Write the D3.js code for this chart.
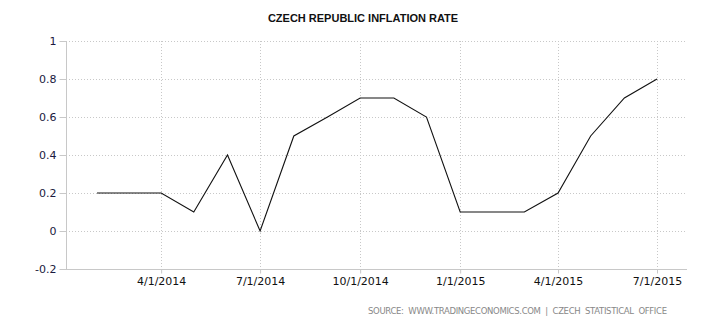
<!DOCTYPE html>
<html><head><meta charset="utf-8">
<script src="https://cdn.jsdelivr.net/npm/d3@7"></script>
<style>body{margin:0;background:#fff}svg{display:block}</style>
</head><body>
<script>
const months = ["2014-02-01","2014-03-01","2014-04-01","2014-05-01","2014-06-01","2014-07-01","2014-08-01","2014-09-01","2014-10-01","2014-11-01","2014-12-01","2015-01-01","2015-02-01","2015-03-01","2015-04-01","2015-05-01","2015-06-01","2015-07-01"];
const values = [0.2,0.2,0.2,0.1,0.4,0.0,0.5,0.6,0.7,0.7,0.6,0.1,0.1,0.1,0.2,0.5,0.7,0.8];
const xTicks = ["2014-04-01","2014-07-01","2014-10-01","2015-01-01","2015-04-01","2015-07-01"];
const yTicks = [-0.2,0,0.2,0.4,0.6,0.8,1];
const title = "CZECH REPUBLIC INFLATION RATE";
const source = "SOURCE:  WWW.TRADINGECONOMICS.COM  |  CZECH  STATISTICAL  OFFICE";

const W=710,H=325, L=66,R=687,T=41,B=269;
const parse=d3.utcParse("%Y-%m-%d");
const svg=d3.select("body").append("svg").attr("width",W).attr("height",H);
const x=d3.scaleUtc().domain([parse(months[0]),parse(months[months.length-1])]).range([97,657]);
const y=d3.scaleLinear().domain([-0.2,1]).range([B,T]);

// grid
svg.append("g").selectAll("line").data(yTicks.filter(v=>v>-0.2)).join("line")
 .attr("x1",L).attr("x2",R).attr("y1",d=>Math.round(y(d))+0.5).attr("y2",d=>Math.round(y(d))+0.5)
 .attr("stroke","#c8c8c8").attr("stroke-dasharray","1,2");
svg.append("g").selectAll("line").data(xTicks).join("line")
 .attr("x1",d=>Math.round(x(parse(d)))+0.5).attr("x2",d=>Math.round(x(parse(d)))+0.5).attr("y1",T).attr("y2",B)
 .attr("stroke","#c8c8c8").attr("stroke-dasharray","1,2");

// y axis
const ya=svg.append("g").attr("transform",`translate(${L+0.5},0)`)
 .call(d3.axisLeft(y).tickValues(yTicks).tickSize(7).tickPadding(3).tickFormat(d=>String(+d.toFixed(1))));
ya.select(".domain").attr("stroke","#c8c8c8").attr("d",`M0,${T}V${B}`);
ya.selectAll(".tick line").attr("stroke","#c8c8c8");
ya.selectAll("text").attr("fill","#1a1a40").style("font","11px 'DejaVu Sans', sans-serif");

// x axis
const xa=svg.append("g").attr("transform",`translate(0,${B+0.5})`)
 .call(d3.axisBottom(x).tickValues(xTicks.map(parse)).tickSize(4).tickPadding(4).tickFormat(d3.utcFormat("%-m/%-d/%Y")));
xa.select(".domain").attr("stroke","#c8c8c8").attr("d",`M${L},0H${R}`);
xa.selectAll(".tick line").attr("stroke","#c8c8c8");
xa.selectAll("text").attr("fill","#111").style("font","11px 'DejaVu Sans', sans-serif");

// line
const data=months.map((m,i)=>({d:parse(m),v:values[i]}));
svg.append("path").datum(data).attr("fill","none").attr("stroke","#111").attr("stroke-width",1.1)
 .attr("d",d3.line().x(d=>x(d.d)).y(d=>y(d.v)));

svg.append("text").attr("x",W/2+8).attr("y",22).attr("text-anchor","middle")
 .style("font","bold 11px 'Liberation Sans', Arial, sans-serif").attr("fill","#111").text(title);
svg.append("text").attr("x",368).attr("y",314).style("white-space","pre")
 .attr("textLength",299).attr("lengthAdjust","spacing")
 .style("font","8.5px 'DejaVu Sans', sans-serif").attr("fill","#888").text(source);
</script>
</body></html>
